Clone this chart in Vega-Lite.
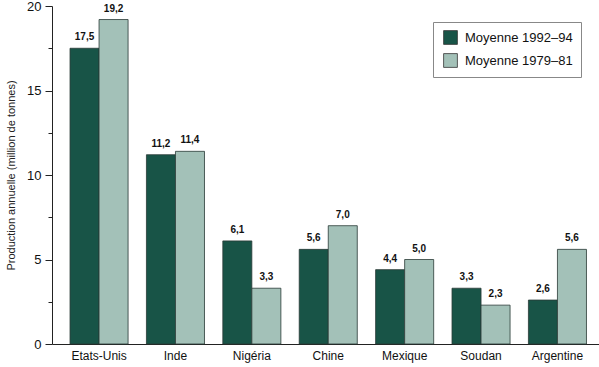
{
  "$schema": "https://vega.github.io/schema/vega-lite/v6.json",
  "autosize": {"type": "none"},
  "padding": {"left": 52, "top": 6, "right": 0, "bottom": 23},
  "width": 547,
  "height": 338,
  "background": "white",
  "config": {
    "view": {"stroke": null},
    "font": "Liberation Sans",
    "locale": {"number": {"decimal": ",", "thousands": ".", "grouping": [3], "currency": ["", ""]}}
  },
  "data": {
    "values": [
      {"pays": "Etats-Unis", "serie": "Moyenne 1992–94", "valeur": 17.5},
      {"pays": "Etats-Unis", "serie": "Moyenne 1979–81", "valeur": 19.2},
      {"pays": "Inde", "serie": "Moyenne 1992–94", "valeur": 11.2},
      {"pays": "Inde", "serie": "Moyenne 1979–81", "valeur": 11.4},
      {"pays": "Nigéria", "serie": "Moyenne 1992–94", "valeur": 6.1},
      {"pays": "Nigéria", "serie": "Moyenne 1979–81", "valeur": 3.3},
      {"pays": "Chine", "serie": "Moyenne 1992–94", "valeur": 5.6},
      {"pays": "Chine", "serie": "Moyenne 1979–81", "valeur": 7.0},
      {"pays": "Mexique", "serie": "Moyenne 1992–94", "valeur": 4.4},
      {"pays": "Mexique", "serie": "Moyenne 1979–81", "valeur": 5.0},
      {"pays": "Soudan", "serie": "Moyenne 1992–94", "valeur": 3.3},
      {"pays": "Soudan", "serie": "Moyenne 1979–81", "valeur": 2.3},
      {"pays": "Argentine", "serie": "Moyenne 1992–94", "valeur": 2.6},
      {"pays": "Argentine", "serie": "Moyenne 1979–81", "valeur": 5.6}
    ]
  },
  "encoding": {
    "x": {
      "field": "pays",
      "type": "nominal",
      "sort": null,
      "scale": {"paddingInner": 0.24, "paddingOuter": 0.2, "align": 0.59},
      "axis": {
        "title": null,
        "labelAngle": 0,
        "ticks": false,
        "labelPadding": 6,
        "labelFontSize": 12,
        "labelColor": "#111",
        "domainColor": "#222",
        "domainWidth": 1
      }
    },
    "xOffset": {"field": "serie", "type": "nominal", "sort": ["Moyenne 1992–94", "Moyenne 1979–81"]},
    "y": {
      "field": "valeur",
      "type": "quantitative",
      "scale": {"domain": [0, 20], "nice": false},
      "axis": {
        "title": "Production annuelle (million de tonnes)",
        "titleFontSize": 11,
        "titleFontWeight": "normal",
        "titleColor": "#222",
        "titlePadding": 10,
        "values": [0, 2.5, 5, 7.5, 10, 12.5, 15, 17.5, 20],
        "labelExpr": "datum.value % 5 === 0 ? datum.label : ''",
        "tickSize": {"condition": {"test": "datum.value % 5 === 0", "value": 7}, "value": 4},
        "tickColor": "#222",
        "domainColor": "#222",
        "labelFontSize": 13,
        "labelColor": "#111",
        "labelPadding": 4,
        "grid": false
      }
    }
  },
  "layer": [
    {
      "mark": {"type": "bar", "stroke": "#2a3a36", "strokeWidth": 0.8},
      "encoding": {
        "color": {
          "field": "serie",
          "type": "nominal",
          "sort": ["Moyenne 1992–94", "Moyenne 1979–81"],
          "scale": {"domain": ["Moyenne 1992–94", "Moyenne 1979–81"], "range": ["#185447", "#a3c1b8"]},
          "legend": {
            "title": null,
            "orient": "none",
            "legendX": 381,
            "legendY": 16,
            "symbolType": "square",
            "symbolSize": 190,
            "symbolStrokeColor": "#333",
            "symbolStrokeWidth": 0.8,
            "labelFontSize": 13,
            "labelColor": "#111",
            "labelOffset": 7,
            "labelExpr": "datum.label + '\u2002\u2002\u2002'",
            "rowPadding": 6,
            "padding": 8,
            "strokeColor": "#888",
            "fillColor": "white",
            "labelLimit": 250,
            "symbolOffset": 2
          }
        }
      }
    },
    {
      "mark": {"type": "text", "baseline": "bottom", "dy": -6, "fontSize": 10, "fontWeight": "bold", "color": "#111"},
      "encoding": {
        "text": {"field": "valeur", "type": "quantitative", "format": ".1f"}
      }
    }
  ]
}
